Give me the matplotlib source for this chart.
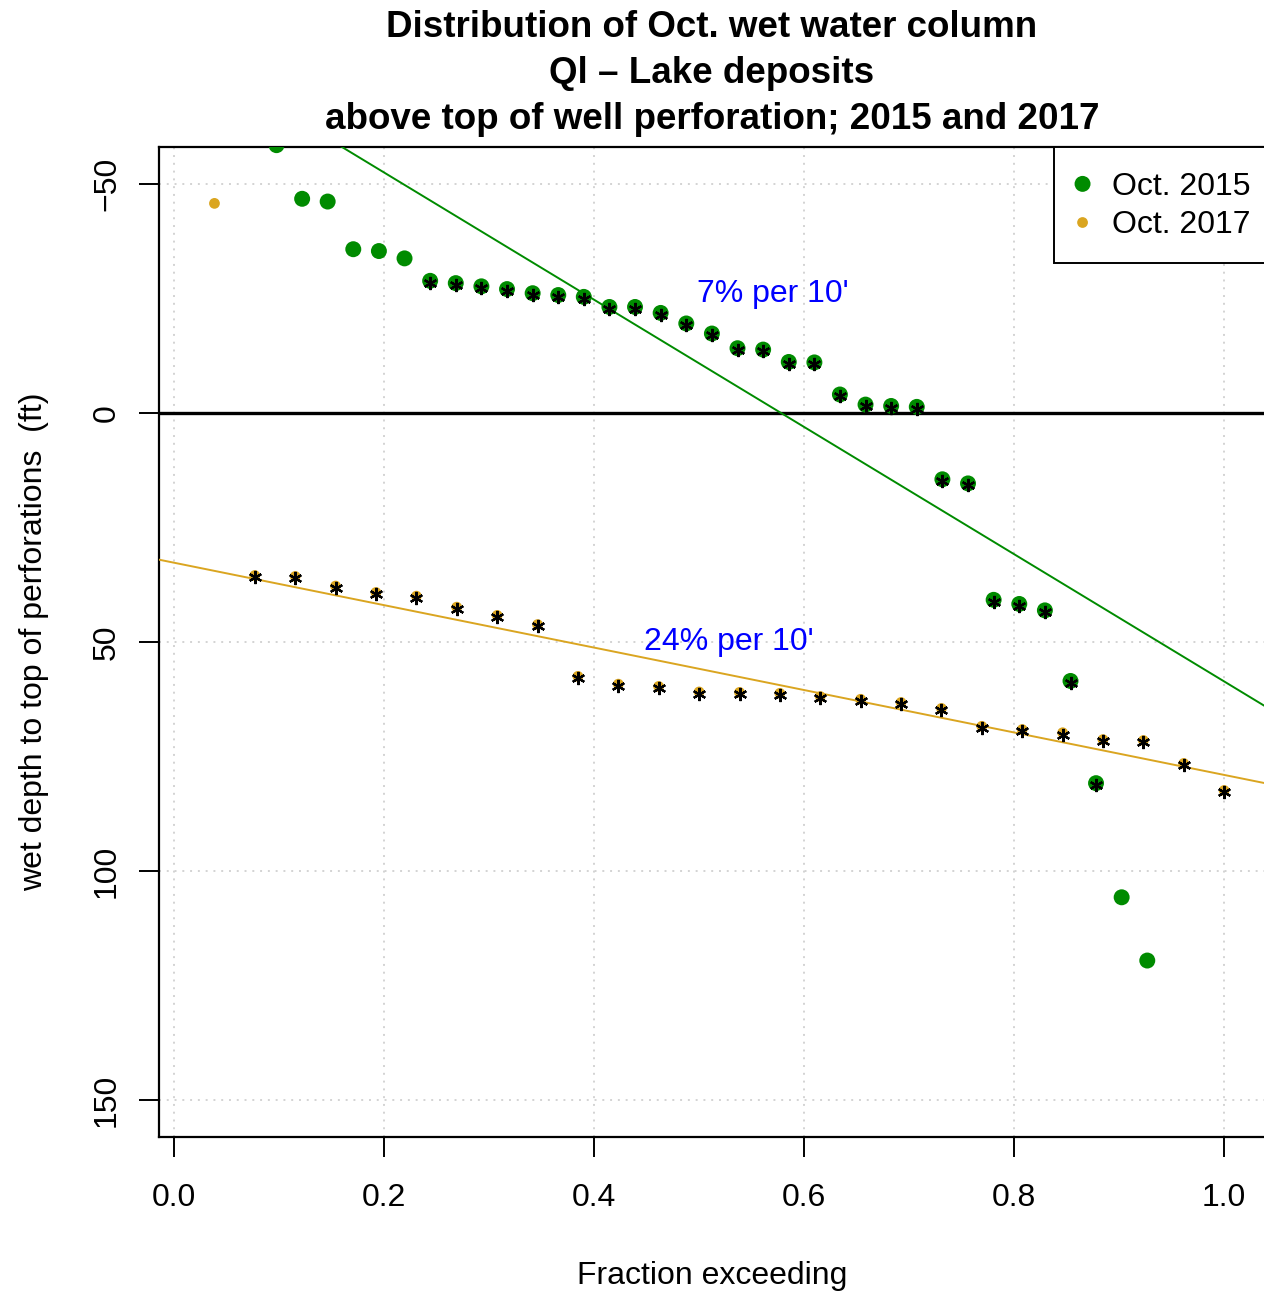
import matplotlib
matplotlib.use("Agg")
import matplotlib.pyplot as plt
import numpy as np

plt.rcParams['font.family'] = ['Liberation Sans', 'DejaVu Sans']

# ---------------- data ----------------
# Oct. 2015 : fraction exceeding vs wet depth (ft)
x2015 = [0.0976, 0.1220, 0.1463, 0.1707, 0.1951, 0.2195, 0.2439, 0.2683, 0.2927,
         0.3171, 0.3415, 0.3659, 0.3902, 0.4146, 0.4390, 0.4634, 0.4878, 0.5122,
         0.5366, 0.5610, 0.5854, 0.6098, 0.6341, 0.6585, 0.6829, 0.7073, 0.7317,
         0.7561, 0.7805, 0.8049, 0.8293, 0.8537, 0.8780, 0.9024, 0.9268]
y2015 = [-58.4, -46.7, -46.1, -35.7, -35.3, -33.7, -28.8, -28.3, -27.6,
         -27.0, -26.1, -25.7, -25.3, -23.1, -23.1, -21.8, -19.5, -17.3,
         -14.1, -13.8, -11.1, -11.0, -4.0, -1.8, -1.5, -1.3, 14.5,
         15.4, 40.8, 41.7, 43.1, 58.5, 80.8, 105.7, 119.5]
star2015 = [False] * 6 + [True] * 27 + [False] * 2

# Oct. 2017
x2017 = [0.0385, 0.0769, 0.1154, 0.1538, 0.1923, 0.2308, 0.2692, 0.3077, 0.3462,
         0.3846, 0.4231, 0.4615, 0.5000, 0.5385, 0.5769, 0.6154, 0.6538, 0.6923,
         0.7308, 0.7692, 0.8077, 0.8462, 0.8846, 0.9231, 0.9615, 1.0000]
y2017 = [-45.7, 35.5, 35.7, 37.8, 39.2, 40.0, 42.4, 44.2, 46.2,
         57.5, 59.2, 59.7, 60.9, 61.0, 61.2, 61.9, 62.5, 63.2,
         64.5, 68.4, 69.1, 69.8, 71.3, 71.5, 76.5, 82.4]
star2017 = [False] + [True] * 25

# fitted lines (intercept, slope)
fit2015 = (-80.2, 138.8)
fit2017 = (32.7, 46.3)

labels = ["Oct. 2015", "Oct. 2017"]
annotations = [("7% per 10'", 0.570, -25.9), ("24% per 10'", 0.528, 49.9)]
xticks = [0.0, 0.2, 0.4, 0.6, 0.8, 1.0]
yticks = [-50, 0, 50, 100, 150]

title_lines = ["Distribution of Oct. wet water column",
               "Ql \u2013 Lake deposits",
               "above top of well perforation; 2015 and 2017"]

c2015 = "#008B00"
c2017 = "#DAA520"
FS = 23

# ---------------- figure ----------------
W, H = 1264, 1292
fig = plt.figure(figsize=(W / 100, H / 100), dpi=100)
ax_l, ax_r, ax_t, ax_b = 158.7, 1265.1, 147, 1137
ax = fig.add_axes([ax_l / W, (H - ax_b) / H, (ax_r - ax_l) / W, (ax_b - ax_t) / H])

xlim = (-0.0146, 1.039)
ylim = (158, -58)
ax.set_xlim(*xlim)
ax.set_ylim(*ylim)

# grid
grid_kw = dict(color="#D3D3D3", lw=1.4, ls=(0, (1, 3)), zorder=0)
for xv in xticks:
    ax.axvline(xv, **grid_kw)
for yv in yticks:
    ax.axhline(yv, **grid_kw)

# zero line
ax.axhline(0, color="black", lw=2.4, zorder=1)

# points
s15 = ax.scatter(x2015, y2015, s=132, color=c2015, edgecolors="none", zorder=3, label=labels[0])
s17 = ax.scatter(x2017, y2017, s=60, color=c2017, edgecolors="none", zorder=3, label=labels[1])

# fitted lines
xx = np.array(xlim)
ax.plot(xx, fit2015[0] + fit2015[1] * xx, color=c2015, lw=1.4, zorder=4)
ax.plot(xx, fit2017[0] + fit2017[1] * xx, color=c2017, lw=1.4, zorder=4)

# asterisks
xs = [x for x, f in zip(x2015, star2015) if f] + [x for x, f in zip(x2017, star2017) if f]
ys = [y for y, f in zip(y2015, star2015) if f] + [y for y, f in zip(y2017, star2017) if f]
ax.plot(xs, [y + 0.4 for y in ys], ls="none", marker=(6, 2, 0), ms=9.5, mew=1.6,
        color="black", zorder=5)

# annotations
for txt, xa, ya in annotations:
    ax.text(xa, ya, txt, color="blue", fontsize=FS, ha="center", va="center", zorder=6)

# axes styling
for sp in ax.spines.values():
    sp.set_linewidth(1.6)
ax.set_xticks(xticks)
ax.set_xticklabels([f"{v:.1f}" for v in xticks])
ax.set_yticks(yticks)
ax.set_yticklabels([("\u2212" + str(-v)) if v < 0 else str(v) for v in yticks])
ax.tick_params(axis="both", length=14.4, width=1.4, labelsize=FS, direction="out")
ax.tick_params(axis="x", pad=19)
ax.tick_params(axis="y", pad=12, labelrotation=90)
for lab in ax.get_yticklabels():
    lab.set_va("center")

# legend (box runs past the right edge, as in the original)
leg = ax.legend(handles=[s15, s17], loc="upper right", bbox_to_anchor=(1.0071, 1.0),
                fontsize=FS, frameon=True, fancybox=False, edgecolor="black",
                framealpha=1, borderaxespad=0, borderpad=0.70, handlelength=0.41,
                handletextpad=0.72, handleheight=1.0, labelspacing=0.2)
leg.get_frame().set_linewidth(1.4)
leg.set_zorder(10)

# axis labels
fig.text(712 / W, 1 - 1284 / H, "Fraction exceeding", fontsize=FS, ha="center", va="baseline")
fig.text(42 / W, 1 - 642 / H, "wet depth to top of perforations  (ft)", fontsize=FS,
         ha="center", va="baseline", rotation=90, rotation_mode="anchor")

# title
for i, line in enumerate(title_lines):
    fig.text(712 / W, 1 - (37 + 46 * i) / H, line, fontsize=26.5, fontweight="bold",
             ha="center", va="baseline")

fig.savefig("out.png", dpi=100)
